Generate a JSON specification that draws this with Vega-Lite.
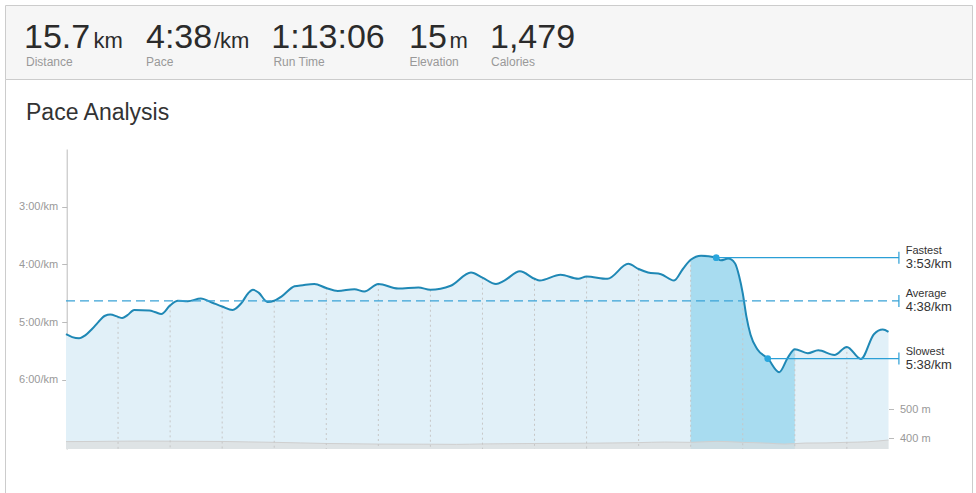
{
  "$schema": "https://vega.github.io/schema/vega-lite/v6.json",
  "background": "white",
  "padding": {"left": 4, "top": 4, "right": 0, "bottom": 0},
  "spacing": 0,
  "bounds": "flush",
  "config": {"font": "Liberation Sans", "view": {"stroke": null}},
  "datasets": {
    "stats": [
      {"order": 1, "label": "Distance", "value": "15.7", "unit": "km"},
      {"order": 2, "label": "Pace", "value": "4:38", "unit": "/km"},
      {"order": 3, "label": "Run Time", "value": "1:13:06", "unit": ""},
      {"order": 4, "label": "Elevation", "value": "15", "unit": "m"},
      {"order": 5, "label": "Calories", "value": "1,479", "unit": ""}
    ],
    "pace": [
      {"km": 0, "pace": 5.21}, {"km": 0.12, "pace": 5.26}, {"km": 0.25, "pace": 5.28}, {"km": 0.37, "pace": 5.23},
      {"km": 0.5, "pace": 5.12}, {"km": 0.62, "pace": 5.0}, {"km": 0.75, "pace": 4.89}, {"km": 0.85, "pace": 4.87},
      {"km": 1, "pace": 4.91}, {"km": 1.08, "pace": 4.93}, {"km": 1.18, "pace": 4.88}, {"km": 1.31, "pace": 4.79},
      {"km": 1.6, "pace": 4.8}, {"km": 1.72, "pace": 4.83}, {"km": 1.83, "pace": 4.86}, {"km": 2, "pace": 4.71},
      {"km": 2.15, "pace": 4.63}, {"km": 2.34, "pace": 4.64}, {"km": 2.59, "pace": 4.59}, {"km": 2.8, "pace": 4.66},
      {"km": 3, "pace": 4.73}, {"km": 3.2, "pace": 4.79}, {"km": 3.37, "pace": 4.67}, {"km": 3.5, "pace": 4.5},
      {"km": 3.59, "pace": 4.44}, {"km": 3.7, "pace": 4.49}, {"km": 3.87, "pace": 4.65}, {"km": 4, "pace": 4.63},
      {"km": 4.15, "pace": 4.55}, {"km": 4.39, "pace": 4.38}, {"km": 4.55, "pace": 4.36}, {"km": 4.77, "pace": 4.34},
      {"km": 5, "pace": 4.41}, {"km": 5.22, "pace": 4.46}, {"km": 5.54, "pace": 4.43}, {"km": 5.73, "pace": 4.47},
      {"km": 6, "pace": 4.34}, {"km": 6.38, "pace": 4.42}, {"km": 6.77, "pace": 4.4}, {"km": 7, "pace": 4.44},
      {"km": 7.39, "pace": 4.37}, {"km": 7.78, "pace": 4.14}, {"km": 8, "pace": 4.23}, {"km": 8.26, "pace": 4.34},
      {"km": 8.42, "pace": 4.28}, {"km": 8.72, "pace": 4.12}, {"km": 9, "pace": 4.25}, {"km": 9.1, "pace": 4.28},
      {"km": 9.5, "pace": 4.18}, {"km": 9.84, "pace": 4.25}, {"km": 10, "pace": 4.21}, {"km": 10.4, "pace": 4.25},
      {"km": 10.8, "pace": 3.99}, {"km": 11, "pace": 4.08}, {"km": 11.18, "pace": 4.14}, {"km": 11.43, "pace": 4.17},
      {"km": 11.68, "pace": 4.28}, {"km": 11.85, "pace": 4.08}, {"km": 12, "pace": 3.92}, {"km": 12.2, "pace": 3.85},
      {"km": 12.49, "pace": 3.88}, {"km": 12.58, "pace": 3.93}, {"km": 12.72, "pace": 3.9}, {"km": 12.85, "pace": 3.98},
      {"km": 12.93, "pace": 4.2}, {"km": 13, "pace": 4.5}, {"km": 13.07, "pace": 4.9}, {"km": 13.15, "pace": 5.22},
      {"km": 13.28, "pace": 5.47}, {"km": 13.48, "pace": 5.63}, {"km": 13.7, "pace": 5.87}, {"km": 13.87, "pace": 5.61},
      {"km": 14, "pace": 5.47}, {"km": 14.25, "pace": 5.54}, {"km": 14.45, "pace": 5.49}, {"km": 14.76, "pace": 5.57},
      {"km": 15, "pace": 5.43}, {"km": 15.27, "pace": 5.64}, {"km": 15.52, "pace": 5.21}, {"km": 15.69, "pace": 5.13},
      {"km": 15.8, "pace": 5.17}
    ],
    "elevation": [
      {"km": 0, "elev": 388.5}, {"km": 0.5, "elev": 389}, {"km": 1, "elev": 390}, {"km": 1.5, "elev": 390.5},
      {"km": 2, "elev": 390}, {"km": 2.5, "elev": 389.5}, {"km": 3, "elev": 389}, {"km": 3.5, "elev": 387.5},
      {"km": 4, "elev": 386}, {"km": 4.5, "elev": 384}, {"km": 5, "elev": 382}, {"km": 5.5, "elev": 381},
      {"km": 6, "elev": 380}, {"km": 7, "elev": 379.5}, {"km": 7.5, "elev": 379}, {"km": 8, "elev": 380.5},
      {"km": 9, "elev": 382}, {"km": 10, "elev": 383}, {"km": 11, "elev": 385}, {"km": 11.5, "elev": 387},
      {"km": 12, "elev": 386}, {"km": 12.5, "elev": 389.5}, {"km": 13, "elev": 386}, {"km": 13.5, "elev": 383},
      {"km": 13.8, "elev": 380}, {"km": 14.2, "elev": 383.5}, {"km": 14.6, "elev": 384}, {"km": 15, "elev": 386},
      {"km": 15.4, "elev": 388}, {"km": 15.8, "elev": 394}
    ],
    "marks": [
      {"kind": "Fastest", "value": "3:53/km", "pace": 3.883, "km": 12.49},
      {"kind": "Average", "value": "4:38/km", "pace": 4.633, "km": 0},
      {"kind": "Slowest", "value": "5:38/km", "pace": 5.633, "km": 13.48}
    ]
  },
  "vconcat": [
    {
      "width": 967,
      "height": 74,
      "view": {"fill": "#f6f6f6", "stroke": "#cccccc", "strokeWidth": 1},
      "data": {"name": "stats"},
      "layer": [
        {
          "mark": {"type": "text", "align": "left", "baseline": "alphabetic", "fontSize": 34, "color": "#2b2b2b"},
          "encoding": {
            "x": {"field": "order", "type": "quantitative", "axis": null,
                  "scale": {"domain": [1, 2, 3, 4, 5], "range": [19, 141, 266.3, 404, 485], "zero": false, "nice": false}},
            "y": {"datum": "big", "type": "nominal", "axis": null,
                  "scale": {"type": "point", "domain": ["big", "small"], "range": [42.7, 61.3], "padding": 0}},
            "text": {"field": "value"}
          }
        },
        {
          "mark": {"type": "text", "align": "left", "baseline": "alphabetic", "fontSize": 22, "color": "#2b2b2b"},
          "encoding": {
            "x": {"field": "order", "type": "quantitative", "axis": null,
                  "scale": {"domain": [1, 2, 3, 4, 5], "range": [88.5, 209, 330, 444.5, 540], "zero": false, "nice": false}},
            "y": {"datum": "big", "type": "nominal", "axis": null,
                  "scale": {"type": "point", "domain": ["big", "small"], "range": [42.7, 61.3], "padding": 0}},
            "text": {"field": "unit"}
          }
        },
        {
          "mark": {"type": "text", "align": "left", "baseline": "alphabetic", "fontSize": 12, "color": "#999999"},
          "encoding": {
            "x": {"field": "order", "type": "quantitative", "axis": null,
                  "scale": {"domain": [1, 2, 3, 4, 5], "range": [21, 141, 268.4, 404.4, 486], "zero": false, "nice": false}},
            "y": {"datum": "small", "type": "nominal", "axis": null,
                  "scale": {"type": "point", "domain": ["big", "small"], "range": [42.7, 61.3], "padding": 0}},
            "text": {"field": "label"}
          }
        }
      ],
      "resolve": {"scale": {"x": "independent"}}
    },
    {
      "width": 967,
      "height": 415,
      "view": {"fill": "white", "stroke": "#cccccc", "strokeWidth": 1},
      "title": {"text": "Pace Analysis", "anchor": "start", "frame": "group", "orient": "top", "offset": 0,
                "dx": 21, "dy": 63.5, "baseline": "alphabetic", "fontSize": 23, "fontWeight": "normal", "color": "#333333"},
      "layer": [
        {
          "data": {"name": "pace"},
          "mark": {"type": "area", "interpolate": "monotone", "color": "#e1f0f8"},
          "encoding": {
            "x": {"field": "km", "type": "quantitative", "axis": null, "scale": {"domain": [0, 15.8], "range": [61, 883.5], "zero": false, "nice": false}},
            "y": {"field": "pace", "type": "quantitative", "axis": null, "scale": {"domain": [2, 7.2], "range": [70, 370], "zero": false, "nice": false}},
            "y2": {"datum": 7.2}
          }
        },
        {
          "data": {"name": "pace"},
          "transform": [{"filter": "datum.km >= 12 && datum.km <= 14"}],
          "mark": {"type": "area", "interpolate": "monotone", "color": "#a8dcf0"},
          "encoding": {
            "x": {"field": "km", "type": "quantitative", "axis": null, "scale": {"domain": [0, 15.8], "range": [61, 883.5], "zero": false, "nice": false}},
            "y": {"field": "pace", "type": "quantitative", "axis": null, "scale": {"domain": [2, 7.2], "range": [70, 370], "zero": false, "nice": false}},
            "y2": {"datum": 7.2}
          }
        },
        {
          "data": {"name": "elevation"},
          "mark": {"type": "area", "interpolate": "monotone", "color": "#dddddd", "line": {"color": "#cfcfcf", "strokeWidth": 1}},
          "encoding": {
            "x": {"field": "km", "type": "quantitative", "axis": null, "scale": {"domain": [0, 15.8], "range": [61, 883.5], "zero": false, "nice": false}},
            "y": {"field": "elev", "type": "quantitative",
                  "scale": {"domain": [363, 1398], "range": [370, 70], "zero": false, "nice": false},
                  "axis": {"orient": "right", "offset": -83.5, "values": [400, 500], "labelExpr": "datum.value + ' m'",
                           "domain": false, "grid": false, "title": null, "tickColor": "#bbbbbb", "tickSize": 5,
                           "labelPadding": 6, "labelColor": "#999999", "labelFontSize": 11, "labelFont": "Liberation Sans"}},
            "y2": {"datum": 363}
          }
        },
        {
          "data": {"name": "pace"},
          "transform": [{"filter": "datum.km % 1 == 0 && datum.km >= 1 && datum.km <= 15"}],
          "mark": {"type": "rule", "color": "#c6c6c6", "strokeWidth": 1, "strokeDash": [2, 3]},
          "encoding": {
            "x": {"field": "km", "type": "quantitative", "axis": null, "scale": {"domain": [0, 15.8], "range": [61, 883.5], "zero": false, "nice": false}},
            "y": {"field": "pace", "type": "quantitative", "axis": null, "scale": {"domain": [2, 7.2], "range": [70, 370], "zero": false, "nice": false}},
            "y2": {"datum": 7.2}
          }
        },
        {
          "data": {"name": "pace"},
          "mark": {"type": "line", "interpolate": "monotone", "color": "#1f88b5", "strokeWidth": 2},
          "encoding": {
            "x": {"field": "km", "type": "quantitative",
                  "scale": {"domain": [0, 15.8], "range": [61, 883.5], "zero": false, "nice": false},
                  "axis": {"orient": "bottom", "offset": -45, "values": [1, 2, 3, 4, 5, 6, 7, 8, 9, 10, 11, 12, 13, 14, 15],
                           "labelExpr": "datum.value == 1 ? '1km' : datum.label", "domainColor": "#aaaaaa", "domainWidth": 1.5,
                           "ticks": false, "tickSize": 0, "labelPadding": 6, "labelColor": "#999999", "labelFontSize": 11,
                           "labelFont": "Liberation Sans", "grid": false, "title": null, "labelFlush": false}},
            "y": {"field": "pace", "type": "quantitative",
                  "scale": {"domain": [2, 7.2], "range": [70, 370], "zero": false, "nice": false},
                  "axis": {"orient": "left", "offset": -61.7, "values": [3, 4, 5, 6], "labelExpr": "floor(datum.value) + ':00/km'",
                           "domainColor": "#bbbbbb", "tickColor": "#bbbbbb", "tickSize": 5, "labelPadding": 4,
                           "labelColor": "#999999", "labelFontSize": 11, "labelFont": "Liberation Sans", "grid": false, "title": null}}
          }
        },
        {
          "data": {"name": "marks"},
          "transform": [{"filter": "datum.kind == 'Average'"}],
          "mark": {"type": "rule", "color": "#3aa2d6", "strokeWidth": 1.2, "strokeDash": [9, 5]},
          "encoding": {
            "x": {"field": "km", "type": "quantitative", "axis": null, "scale": {"domain": [0, 15.8], "range": [61, 883.5], "zero": false, "nice": false}},
            "x2": {"datum": 16.0},
            "y": {"field": "pace", "type": "quantitative", "axis": null, "scale": {"domain": [2, 7.2], "range": [70, 370], "zero": false, "nice": false}}
          }
        },
        {
          "data": {"name": "marks"},
          "transform": [{"filter": "datum.kind != 'Average'"}],
          "mark": {"type": "rule", "color": "#2b9fd6", "strokeWidth": 1.2},
          "encoding": {
            "x": {"field": "km", "type": "quantitative", "axis": null, "scale": {"domain": [0, 15.8], "range": [61, 883.5], "zero": false, "nice": false}},
            "x2": {"datum": 16.0},
            "y": {"field": "pace", "type": "quantitative", "axis": null, "scale": {"domain": [2, 7.2], "range": [70, 370], "zero": false, "nice": false}}
          }
        },
        {
          "data": {"name": "marks"},
          "mark": {"type": "rule", "color": "#2b9fd6", "strokeWidth": 1.2, "yOffset": -6, "y2Offset": 6},
          "encoding": {
            "x": {"datum": 16.0, "type": "quantitative", "axis": null, "scale": {"domain": [0, 15.8], "range": [61, 883.5], "zero": false, "nice": false}},
            "y": {"field": "pace", "type": "quantitative", "axis": null, "scale": {"domain": [2, 7.2], "range": [70, 370], "zero": false, "nice": false}},
            "y2": {"field": "pace"}
          }
        },
        {
          "data": {"name": "marks"},
          "transform": [{"filter": "datum.kind != 'Average'"}],
          "mark": {"type": "circle", "color": "#29a6dd", "opacity": 1, "size": 45},
          "encoding": {
            "x": {"field": "km", "type": "quantitative", "axis": null, "scale": {"domain": [0, 15.8], "range": [61, 883.5], "zero": false, "nice": false}},
            "y": {"field": "pace", "type": "quantitative", "axis": null, "scale": {"domain": [2, 7.2], "range": [70, 370], "zero": false, "nice": false}}
          }
        },
        {
          "data": {"name": "marks"},
          "mark": {"type": "text", "align": "left", "baseline": "alphabetic", "dy": -4, "fontSize": 11, "color": "#333333"},
          "encoding": {
            "x": {"datum": 16.13, "type": "quantitative", "axis": null, "scale": {"domain": [0, 15.8], "range": [61, 883.5], "zero": false, "nice": false}},
            "y": {"field": "pace", "type": "quantitative", "axis": null, "scale": {"domain": [2, 7.2], "range": [70, 370], "zero": false, "nice": false}},
            "text": {"field": "kind"}
          }
        },
        {
          "data": {"name": "marks"},
          "mark": {"type": "text", "align": "left", "baseline": "alphabetic", "dy": 10, "fontSize": 13, "color": "#333333"},
          "encoding": {
            "x": {"datum": 16.13, "type": "quantitative", "axis": null, "scale": {"domain": [0, 15.8], "range": [61, 883.5], "zero": false, "nice": false}},
            "y": {"field": "pace", "type": "quantitative", "axis": null, "scale": {"domain": [2, 7.2], "range": [70, 370], "zero": false, "nice": false}},
            "text": {"field": "value"}
          }
        }
      ],
      "resolve": {"scale": {"y": "independent"}, "axis": {"y": "independent"}}
    }
  ]
}
